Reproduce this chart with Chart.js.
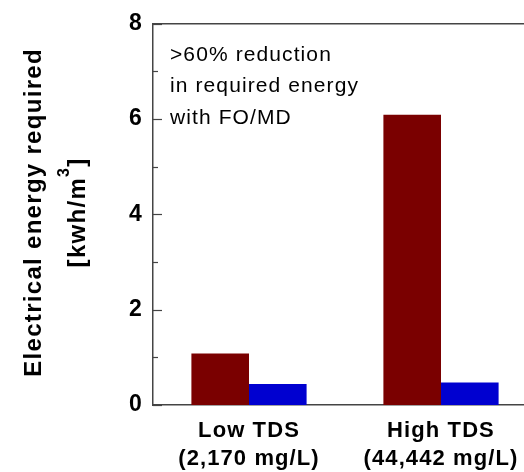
<!DOCTYPE html>
<html>
<head>
<meta charset="utf-8">
<script src="https://cdn.jsdelivr.net/npm/chart.js@4.4.0/dist/chart.umd.min.js"></script>
<style>
html,body{margin:0;padding:0;background:#fff;overflow:hidden;width:524px;height:472px;}
#wrap{position:absolute;left:0;top:0;width:545px;height:472px;}
</style>
</head>
<body>
<div id="wrap"><canvas id="c" width="545" height="472"></canvas></div>
<script>
const categories = [["Low TDS", "(2,170 mg/L)"], ["High TDS", "(44,442 mg/L)"]];
const seriesRO = [1.08, 6.09];
const seriesFOMD = [0.44, 0.47];
const yTicks = [0, 2, 4, 6, 8];
const yTitleMain = "Electrical energy required";
const yTitleUnit = ["[kwh/m", "3", "]"];
const noteLines = [">60% reduction", "in required energy", "with FO/MD"];

const axisColor = '#444';
const FONT = '"Liberation Sans", Arial, sans-serif';

const decor = {
  id: 'decor',
  beforeInit(chart) { chart.ctx.letterSpacing = '1.1px'; },
  beforeDraw(chart) { chart.ctx.letterSpacing = '1.1px'; },
  afterDraw(chart) {
    const ctx = chart.ctx;
    const a = chart.chartArea;
    const y = chart.scales.y;
    ctx.save();
    ctx.strokeStyle = axisColor;
    ctx.lineWidth = 1.5;
    ctx.beginPath();
    ctx.moveTo(a.left, a.top);
    ctx.lineTo(a.right, a.top);
    ctx.lineTo(a.right, a.bottom);
    ctx.stroke();
    ctx.lineWidth = 1.2;
    for (let v = 0; v <= 8; v++) {
      const py = Math.round(y.getPixelForValue(v)) + 0.5;
      const len = (v % 2 === 0) ? 9 : 5;
      ctx.beginPath();
      ctx.moveTo(a.left, py);
      ctx.lineTo(a.left + len, py);
      ctx.stroke();
    }
    // y title
    ctx.fillStyle = '#000';
    ctx.textBaseline = 'middle';
    const cy = (a.top + a.bottom) / 2 - 2;
    ctx.letterSpacing = '1.3px';
    ctx.font = 'bold 24px ' + FONT;
    ctx.textAlign = 'center';
    ctx.save();
    ctx.translate(34, cy);
    ctx.rotate(-Math.PI / 2);
    ctx.fillText(yTitleMain, 0, 0);
    ctx.restore();
    // unit line with superscript
    ctx.save();
    ctx.translate(78, cy);
    ctx.rotate(-Math.PI / 2);
    ctx.textAlign = 'left';
    const supFont = 'bold 16px ' + FONT;
    const mainFont = 'bold 24px ' + FONT;
    ctx.font = mainFont;
    const w1 = ctx.measureText(yTitleUnit[0]).width;
    const w3 = ctx.measureText(yTitleUnit[2]).width;
    ctx.font = supFont;
    const w2 = ctx.measureText(yTitleUnit[1]).width;
    let x0 = -(w1 + w2 + w3) / 2;
    ctx.font = mainFont;
    ctx.fillText(yTitleUnit[0], x0, 0);
    ctx.font = supFont;
    ctx.fillText(yTitleUnit[1], x0 + w1, -13);
    ctx.font = mainFont;
    ctx.fillText(yTitleUnit[2], x0 + w1 + w2, 0);
    ctx.restore();
    // note text
    ctx.letterSpacing = '1.1px';
    ctx.font = '21px ' + FONT;
    ctx.textAlign = 'left';
    noteLines.forEach((t, i) => {
      ctx.fillText(t, a.left + 17, a.top + 31 + i * 31.5);
    });
    ctx.restore();
  }
};

new Chart(document.getElementById('c'), {
  type: 'bar',
  data: {
    labels: categories,
    datasets: [
      { label: 'RO', data: seriesRO, backgroundColor: '#7A0000', borderWidth: 0,
        categoryPercentage: 0.6, barPercentage: 1.0 },
      { label: 'FO/MD', data: seriesFOMD, backgroundColor: '#0000D0', borderWidth: 0,
        categoryPercentage: 0.6, barPercentage: 1.0 }
    ]
  },
  options: {
    responsive: false,
    animation: false,
    layout: { padding: { left: 0, right: 8, top: 21, bottom: 0 } },
    plugins: { legend: { display: false }, tooltip: { enabled: false }, title: { display: false } },
    scales: {
      x: {
        grid: { display: false, drawTicks: false },
        border: { display: true, color: axisColor, width: 1.5 },
        ticks: { color: '#000', font: { family: FONT, size: 22, weight: 'bold', lineHeight: 1.27 },
                 padding: 12, maxRotation: 0, autoSkip: false },
        afterFit(s) { s.height = 67; }
      },
      y: {
        min: 0, max: 8,
        afterBuildTicks(s) { s.ticks = yTicks.map(v => ({ value: v })); },
        grid: { display: false, drawTicks: false },
        border: { display: true, color: axisColor, width: 1.5 },
        ticks: { color: '#000', font: { family: FONT, size: 23, weight: 'bold' }, padding: 10 },
        afterFit(s) { s.width = 153; }
      }
    }
  },
  plugins: [decor]
});
</script>
</body>
</html>
